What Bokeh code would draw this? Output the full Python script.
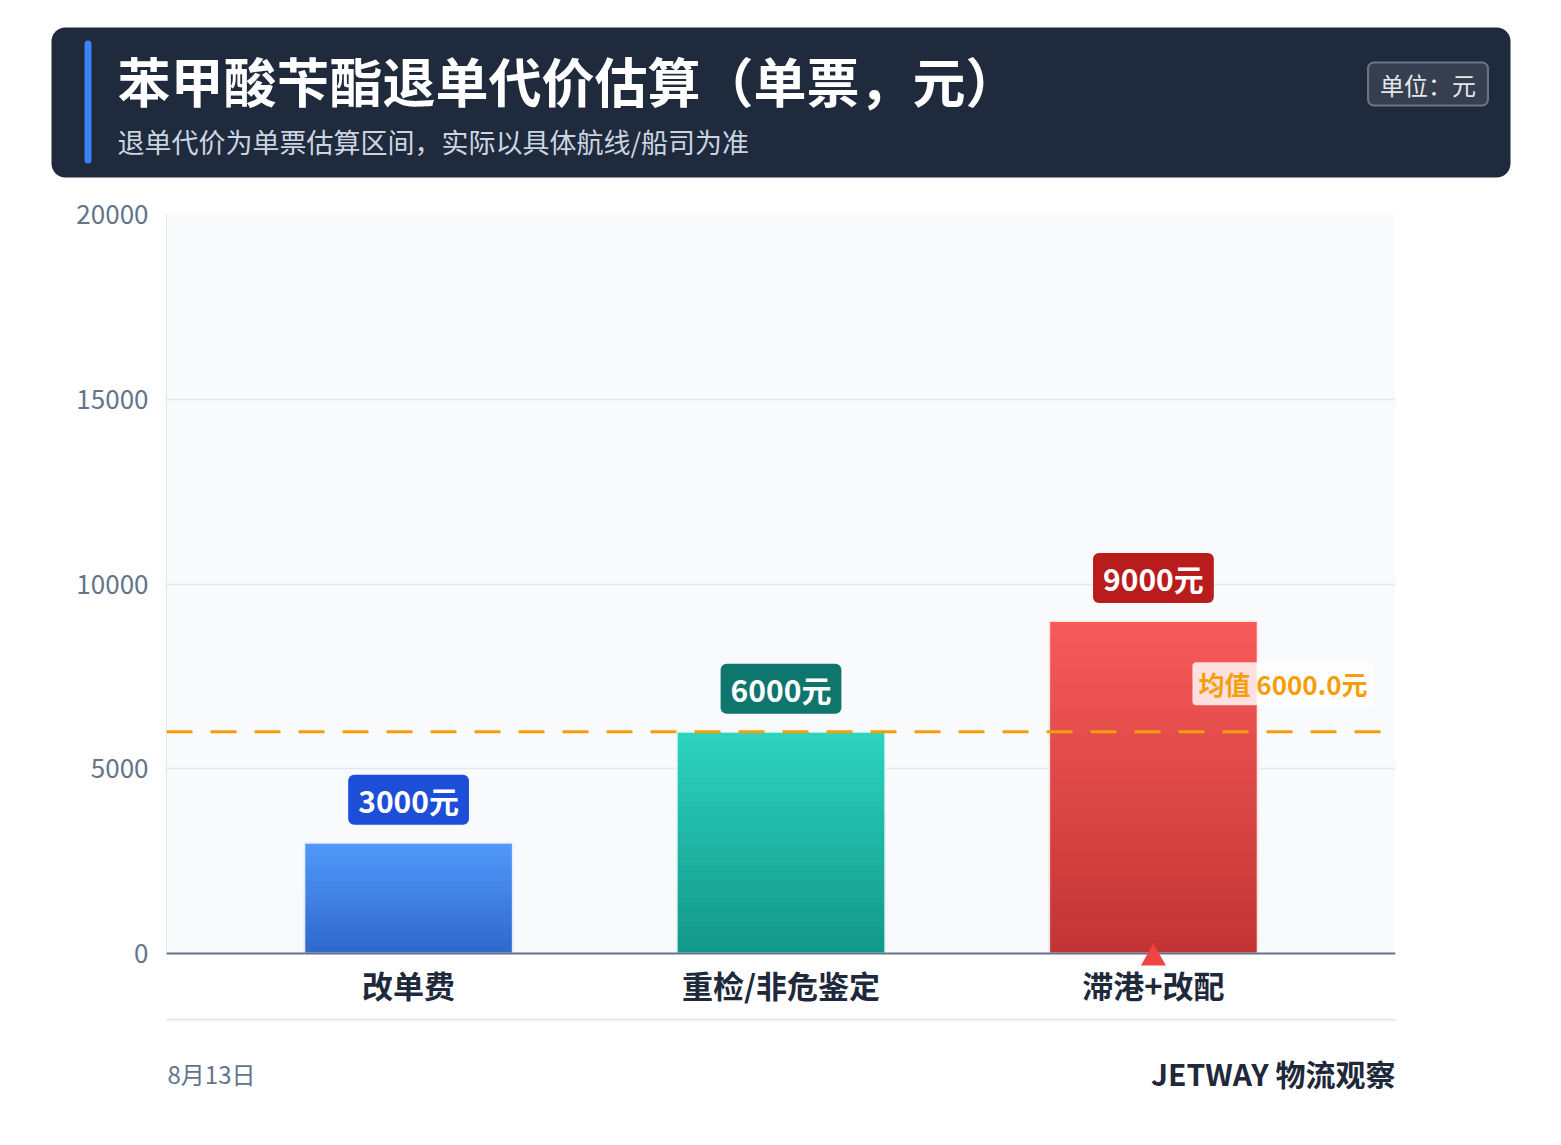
from bokeh.plotting import figure
from bokeh.models import (Range1d, FactorRange, FixedTicker, Span, Label,
                          BoxAnnotation, PolyAnnotation)
from bokeh.layouts import column
from bokeh.embed import file_html
from bokeh.resources import INLINE

FONT = "Noto Sans CJK SC"

# ---------------- data ----------------
title_text = "苯甲酸苄酯退单代价估算（单票，元）"
subtitle_text = "退单代价为单票估算区间，实际以具体航线/船司为准"
unit_text = "单位：元"
categories = ["改单费", "重检/非危鉴定", "滞港+改配"]
costs = [3000, 6000, 9000]
y_ticks = [0, 5000, 10000, 15000, 20000]
y_max = 20000
date_text = "8月13日"
brand_text = "JETWAY 物流观察"
highlight_category = "滞港+改配"

# ---------------- styles ----------------
bar_top_colors = ["#5199fb", "#2dd4bf", "#f85a5a"]
bar_bottom_colors = ["#2f67cc", "#129789", "#c23434"]
badge_colors = ["#1d4ed8", "#0f766e", "#b91c1c"]

W = 1561


def hex2rgb(h):
    h = h.lstrip("#")
    return tuple(int(h[i:i + 2], 16) for i in (0, 2, 4))


def mix(c1, c2, t):
    a, b = hex2rgb(c1), hex2rgb(c2)
    return "#%02x%02x%02x" % tuple(int(round(a[i] + (b[i] - a[i]) * t)) for i in range(3))


def deco_fig(h):
    f = figure(width=W, height=h, x_range=Range1d(0, W), y_range=Range1d(0, h),
               output_backend="svg", toolbar_location=None, min_border=0,
               x_axis_location=None, y_axis_location=None, frame_align=False)
    f.grid.visible = False
    f.outline_line_color = None
    f.background_fill_color = "white"
    f.border_fill_color = "white"
    return f


# ---------------- header ----------------
HH = 190
hdr = deco_fig(HH)
hy = lambda py: HH - py
hdr.add_layout(BoxAnnotation(left=51, right=1510, top=hy(27), bottom=hy(177),
                             fill_color="#1f2a3d", fill_alpha=1, line_color=None,
                             border_radius=14))
hdr.add_layout(BoxAnnotation(left=84, right=91, top=hy(40), bottom=hy(163),
                             fill_color="#3b82f6", fill_alpha=1, line_color=None,
                             border_radius=4))
hdr.add_layout(Label(x=117, y=hy(79), text=title_text, text_font=FONT,
                     text_font_style="bold", text_font_size="53px", text_color="white",
                     text_baseline="middle", text_align="left"))
hdr.add_layout(Label(x=117, y=hy(141), text=subtitle_text, text_font=FONT,
                     text_font_size="27px", text_color="#cbd5e1",
                     text_baseline="middle", text_align="left"))
hdr.add_layout(Label(x=1427.5, y=hy(83.5), text=unit_text, text_font=FONT,
                     text_font_size="24px", text_color="#e5e7eb",
                     text_baseline="middle", text_align="center",
                     background_fill_color="#363f50", background_fill_alpha=1,
                     border_line_color="#6b7585", border_line_width=2,
                     padding=(12, 4), border_radius=6))

# ---------------- main chart ----------------
TOP, FT, FB, FBX, BOT = 190, 214, 953, 967, 1018   # page px
FL, FR = 166, 1395
pad = 0.1
n = len(categories)
X0, X1 = -n * pad / 2, n + n * pad / 2
y_lo = -y_max * (FBX - FB) / (FB - FT)   # small room below zero for the marker

p = figure(width=W, height=BOT - TOP,
           x_range=FactorRange(factors=categories, range_padding=pad),
           y_range=Range1d(y_lo, y_max),
           output_backend="svg", toolbar_location=None, frame_align=False,
           min_border_left=FL, min_border_right=W - FR,
           min_border_top=FT - TOP, min_border_bottom=BOT - FBX)
p.background_fill_color = "white"
p.border_fill_color = "white"
p.outline_line_color = None
p.xgrid.grid_line_color = None
p.ygrid.grid_line_color = "#e2e8f0"
p.ygrid.grid_line_width = 1.5
p.add_layout(BoxAnnotation(left=X0, right=X1, bottom=0, top=y_max,
                           fill_color="#f8fafc", fill_alpha=1, line_color=None,
                           level="image"))

# gradient bars (stacked slices of each bar)
N = 48
sx, sb, st, sc = [], [], [], []
for cat, v, ct, cb in zip(categories, costs, bar_top_colors, bar_bottom_colors):
    for k in range(N):
        t = (k + 0.5) / N
        sx.append(cat)
        sb.append(v * k / N)
        st.append(v * (k + 1) / N)
        sc.append(mix(cb, ct, t))
p.vbar(x=sx, bottom=sb, top=st, width=0.56, fill_color=sc, line_color=sc, line_width=1)
p.vbar(x=categories, top=costs, width=0.56, fill_color=None, line_color="white",
       line_width=2, line_alpha=0.85)

mean_cost = sum(costs) / len(costs)
p.add_layout(Span(location=mean_cost, dimension="width", line_color="#f59e0b",
                  line_width=3, line_dash="26 18"))
p.add_layout(Label(x=X1, y=mean_cost, x_offset=-22, y_offset=48,
                   text=f"均值 {mean_cost:.1f}元", text_align="right",
                   text_baseline="middle", text_font=FONT, text_font_size="26px",
                   text_font_style="bold", text_color="#f59e0b",
                   background_fill_color="white", background_fill_alpha=0.82,
                   padding=(6, 3), border_radius=4))

for i, (cat, v, bc) in enumerate(zip(categories, costs, badge_colors)):
    p.add_layout(Label(x=i + 0.5, y=v, y_offset=43, text=f"{v}元",
                       text_align="center", text_baseline="middle",
                       text_font=FONT, text_font_size="30px", text_font_style="bold",
                       text_color="white", background_fill_color=bc,
                       background_fill_alpha=1, padding=(10, 3), border_radius=6))

# baseline (value axis zero line)
p.add_layout(Span(location=0, dimension="width", line_color="#64748b", line_width=2))

# highlight marker under the largest item
ppx = (X1 - X0) / (FR - FL)          # category units per pixel
ppy = (y_max - y_lo) / (FBX - FT)    # value units per pixel
hi = categories.index(highlight_category) + 0.5
p.add_layout(PolyAnnotation(xs=[hi - 12.5 * ppx, hi, hi + 12.5 * ppx],
                            ys=[-12 * ppy, 10 * ppy, -12 * ppy],
                            fill_color="#ef4444", fill_alpha=1, line_color=None,
                            level="overlay"))

p.yaxis.ticker = FixedTicker(ticks=y_ticks)
p.yaxis.bounds = (0, y_max)
p.yaxis.major_label_text_font = FONT
p.yaxis.major_label_text_font_size = "26px"
p.yaxis.major_label_text_color = "#64748b"
p.yaxis.major_tick_line_color = None
p.yaxis.minor_tick_line_color = None
p.yaxis.axis_line_color = "#e2e8f0"
p.yaxis.major_label_standoff = 12

p.xaxis.axis_line_color = None
p.xaxis.major_tick_line_color = None
p.xaxis.minor_tick_line_color = None
p.xaxis.major_label_text_font = FONT
p.xaxis.major_label_text_font_size = "31px"
p.xaxis.major_label_text_font_style = "bold"
p.xaxis.major_label_text_color = "#1e293b"
p.xaxis.major_label_standoff = -12

# ---------------- footer ----------------
FH = 102
ftr = deco_fig(FH)
fy = lambda py: FH - (py - BOT)
ftr.add_layout(BoxAnnotation(left=FL, right=FR, top=fy(1018), bottom=fy(1020),
                             fill_color="#e2e8f0", fill_alpha=1, line_color=None))
ftr.add_layout(Label(x=167, y=fy(1073), text=date_text, text_font=FONT,
                     text_font_size="24px", text_color="#64748b",
                     text_baseline="middle", text_align="left"))
ftr.add_layout(Label(x=FR, y=fy(1072), text=brand_text, text_font=FONT,
                     text_font_size="30px", text_font_style="bold", text_color="#1e293b",
                     text_baseline="middle", text_align="right"))

layout = column(hdr, p, ftr)
open("out.html", "w").write(file_html(layout, INLINE))
